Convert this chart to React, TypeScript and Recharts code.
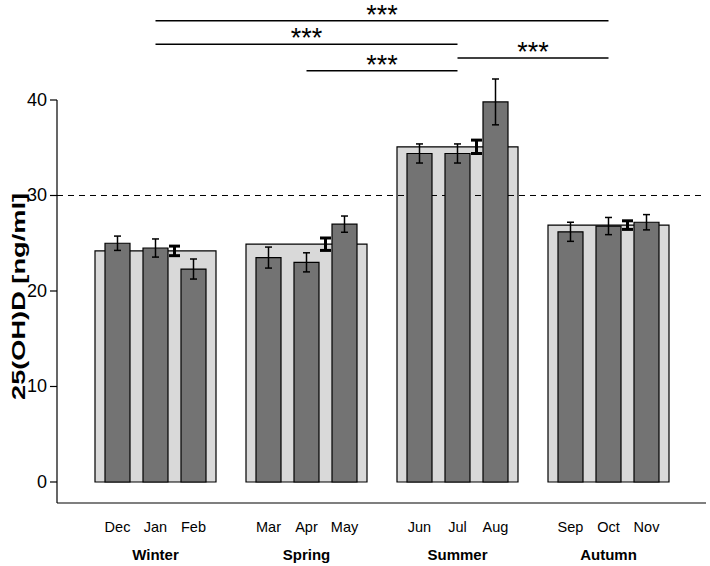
import React from 'react';
import { ComposedChart, Bar, XAxis, YAxis, ErrorBar, ReferenceLine, Label } from 'recharts';

// ---- data ----
const seasons = ['Winter', 'Spring', 'Summer', 'Autumn'];
const seasonMean = [24.2, 24.9, 35.1, 26.9];
const seasonErr = [0.5, 0.65, 0.7, 0.45];
const monthNames = ['Dec', 'Jan', 'Feb', 'Mar', 'Apr', 'May', 'Jun', 'Jul', 'Aug', 'Sep', 'Oct', 'Nov'];
const monthMean = [25.0, 24.5, 22.3, 23.5, 23.0, 27.0, 34.4, 34.4, 39.8, 26.2, 26.8, 27.2];
const monthErr = [0.75, 0.95, 1.05, 1.1, 1.0, 0.85, 1.0, 1.0, 2.4, 1.0, 0.9, 0.8];
const yTicks = [0, 10, 20, 30, 40];
const threshold = 30;
const comparisons = [
  { from: 'Winter', to: 'Autumn', level: 48.3, label: '***' },
  { from: 'Winter', to: 'Summer', level: 45.85, label: '***' },
  { from: 'Summer', to: 'Autumn', level: 44.4, label: '***' },
  { from: 'Spring', to: 'Summer', level: 43.07, label: '***' },
];

const data = seasons.map((s, i) => ({
  season: s,
  mean: seasonMean[i],
  err: seasonErr[i],
  m0: monthMean[i * 3],
  m0e: monthErr[i * 3],
  m1: monthMean[i * 3 + 1],
  m1e: monthErr[i * 3 + 1],
  m2: monthMean[i * 3 + 2],
  m2e: monthErr[i * 3 + 2],
  names: monthNames.slice(i * 3, i * 3 + 3),
}));

// ---- styles ----
const FONT = '"Liberation Sans", Arial, Helvetica, sans-serif';
const MONTH_BAR = 25;
const GAP = 13;
const STEP = MONTH_BAR + GAP;
const LIGHT = '#d9d9d9';
const DARK = '#737373';
const PAD = { left: 23, right: 22 };

const SeasonTick = (props: any) => {
  const { x, y, payload, index } = props;
  const names = data[index] ? data[index].names : [];
  return (
    <g>
      {names.map((n: string, k: number) => (
        <text key={n} x={x + (k - 1) * STEP} y={y + 29} textAnchor="middle" fontFamily={FONT} fontSize={14.5} fill="#000">
          {n}
        </text>
      ))}
      <text x={x} y={y + 57} textAnchor="middle" fontFamily={FONT} fontSize={15} fontWeight="bold" fill="#000">
        {payload.value}
      </text>
    </g>
  );
};

const YTick = (props: any) => {
  const { x, y, payload } = props;
  return (
    <text x={x} y={y} dy={6} textAnchor="end" fontFamily={FONT} fontSize={18} fill="#000">
      {payload.value}
    </text>
  );
};

const YLabel = (props: any) => {
  const { viewBox } = props;
  const cx = 18;
  const cy = viewBox.y + viewBox.height / 2 - 5;
  return (
    <text
      x={cx}
      y={cy}
      transform={`rotate(-90, ${cx}, ${cy})`}
      textAnchor="middle"
      dominantBaseline="central"
      fontFamily={FONT}
      fontSize={19}
      fontWeight="bold"
      fill="#000"
      textLength={207}
      lengthAdjust="spacingAndGlyphs"
    >
      25(OH)D [ng/ml]
    </text>
  );
};

export default function App() {
  return (
    <div style={{ position: 'absolute', left: 0, top: 0, width: 710, height: 566, background: '#fff' }}>
      <ComposedChart
        width={710}
        height={566}
        data={data}
        margin={{ top: 100, right: 4, bottom: 0, left: 0 }}
        barGap={GAP}
      >
        <XAxis
          xAxisId="a"
          dataKey="season"
          padding={PAD}
          axisLine={{ stroke: '#000', strokeWidth: 1.2 }}
          tickLine={false}
          tickSize={0}
          tickMargin={0}
          height={63}
          interval={0}
          tick={<SeasonTick />}
        />
        <XAxis xAxisId="b" dataKey="season" padding={PAD} height={0} hide />
        <XAxis xAxisId="c" dataKey="season" padding={PAD} height={0} hide />
        <YAxis
          domain={[-2.2, 40]}
          allowDataOverflow
          ticks={yTicks}
          width={57}
          axisLine={{ stroke: '#000', strokeWidth: 1.2 }}
          tickLine={{ stroke: '#000', strokeWidth: 1.2 }}
          tickSize={7}
          tickMargin={3}
          tick={<YTick />}
          interval={0}
        >
          <Label content={<YLabel />} />
        </YAxis>

        <Bar xAxisId="a" dataKey="mean" barSize={121} fill={LIGHT} stroke="#000" strokeWidth={1.2} isAnimationActive={false} zIndex={100} />

        <ReferenceLine xAxisId="a" y={threshold} stroke="#000" strokeWidth={1} strokeDasharray="6 5" zIndex={150} />

        {['m0', 'm1', 'm2'].map((k) => (
          <Bar key={k} xAxisId="b" dataKey={k} barSize={MONTH_BAR} fill={DARK} stroke="#000" strokeWidth={1.2} isAnimationActive={false} zIndex={300}>
            <ErrorBar dataKey={`${k}e`} width={3.5} stroke="#000" strokeWidth={1.5} isAnimationActive={false} />
          </Bar>
        ))}

        <Bar xAxisId="c" dataKey="none" barSize={MONTH_BAR} fill="none" isAnimationActive={false} zIndex={300} />
        <Bar xAxisId="c" dataKey="mean" barSize={MONTH_BAR} fill="none" stroke="none" isAnimationActive={false} zIndex={300}>
          <ErrorBar dataKey="err" width={5.5} stroke="#000" strokeWidth={3} isAnimationActive={false} />
        </Bar>

        {comparisons.map((c, i) => (
          <ReferenceLine
            key={i}
            xAxisId="a"
            segment={[{ x: c.from, y: c.level }, { x: c.to, y: c.level }]}
            ifOverflow="visible"
            stroke="#000"
            strokeWidth={1.5}
            label={{ value: c.label, position: 'top', offset: -3, fontSize: 27, fill: '#000', fontFamily: FONT }}
          />
        ))}
      </ComposedChart>
    </div>
  );
}
